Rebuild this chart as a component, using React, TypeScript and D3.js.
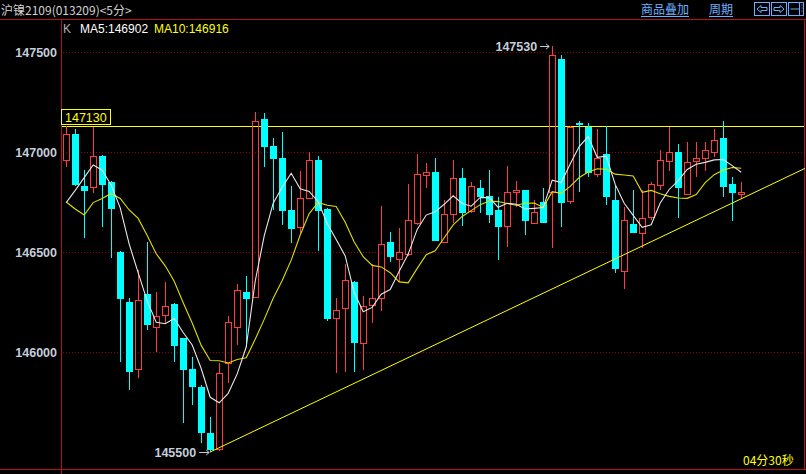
import React from "react";
import * as d3 from "d3";

const opens = [146958,147090,146830,146827,146980,146852,146502,146252,145913,146290,146127,146187,146240,146068,145913,145823,145593,145513,145943,146127,146300,146277,147165,147030,146970,146710,146627,146768,146960,146715,146168,146218,146352,146043,146235,146268,146552,146467,146488,146647,146887,146898,146548,146690,146870,146707,146818,146782,146710,146630,146798,146808,146647,146750,146802,147465,146757,147143,147123,146888,146990,146760,146407,146638,146597,146677,146835,146957,146998,146788,146957,146968,146998,147070,146840,146788];
const highs = [147130,147115,146910,147127,146985,146855,146505,146268,146410,146552,146302,146352,146245,146070,145977,145835,145677,145943,146180,146340,146380,147202,147193,147068,147102,146830,146907,146998,146980,146720,146268,146440,146355,146280,146440,146730,146598,146618,146840,146990,146947,146972,146760,146960,146922,146852,146860,146910,146777,146930,146857,146810,146760,146818,147530,147485,147130,147155,147143,147115,147130,146835,146727,146810,146810,146852,147010,147127,147040,147050,147050,147050,147115,147155,146877,146852];
const lows = [146927,146830,146568,146797,146627,146468,145952,145810,145872,146110,146002,146143,145952,145643,145735,145543,145500,145505,145843,146035,146027,146268,146927,146710,146635,146543,146593,146765,146507,146157,145893,145900,145900,145910,146147,146207,146452,146352,146480,146635,146818,146555,146545,146643,146630,146697,146693,146647,146460,146527,146727,146585,146645,146645,146518,146627,146740,146802,146877,146877,146735,146397,146315,146595,146518,146660,146810,146905,146668,146785,146877,146905,146977,146777,146657,146763];
const closes = [147088,146835,146807,146980,146835,146715,146265,145902,146260,146135,146180,146230,146032,145910,145823,145593,145510,145893,146148,146308,146265,147155,147027,146965,146707,146615,146768,146960,146707,146165,146210,146360,146043,146230,146272,146540,146477,146500,146658,146890,146898,146557,146690,146870,146697,146830,146777,146685,146627,146798,146808,146657,146700,146647,147485,146747,147123,147133,146897,146968,146777,146415,146660,146597,146668,146840,146960,146998,146818,146948,146968,147008,147060,146827,146797,146802];
// MA values at the start of the window (computed by the terminal from earlier bars)
const ma5Head = [146747, 146808, 146872, 146935];
const ma10Head = [146750, 146715, 146685, 146747, 146768, 146793, 146768, 146710, 146668];
const yTicks = [147500, 147000, 146500, 146000];
const refLevel = 147130;
const trendPoints = [
  { i: 16, v: 145500 },
  { i: 64, v: 146530 },
];

function movingAvg(n: number, head: number[]) {
  return closes.map((_, i) => {
    if (i < n - 1) return head[i];
    let s = 0;
    for (let k = i - n + 1; k <= i; k++) s += closes[k];
    return s / n;
  });
}

export default function App() {
  const W = 806, H = 474;
  const left = 61, right = 805, top = 19, bottom = 469;
  const x = d3.scaleLinear().domain([0, closes.length - 1]).range([66.2, 741.2]);
  const y = d3.scaleLinear().domain([145500, 147500]).range([452, 52]);
  const ma5 = movingAvg(5, ma5Head);
  const ma10 = movingAvg(10, ma10Head);
  const line = d3.line<number>().x((_, i) => x(i)).y((d) => y(d));
  const red = "#ff3c3c";
  const cyan = "#00ffff";
  const border = "#b01414";
  const grid = "#9a0000";
  const labelCol = "#c4cedc";

  const slope = (trendPoints[1].v - trendPoints[0].v) / (trendPoints[1].i - trendPoints[0].i);
  const iEnd = x.invert(right);
  const trendLine = d3.line<[number, number]>().x((d) => x(d[0])).y((d) => y(d[1]));
  const trendPath = trendLine([
    [trendPoints[0].i, trendPoints[0].v],
    [iEnd, trendPoints[0].v + slope * (iEnd - trendPoints[0].i)],
  ]);

  const maxI = highs.indexOf(d3.max(highs) as number);
  const minI = lows.indexOf(d3.min(lows) as number);

  const cjk = "'Noto Sans CJK SC', 'DejaVu Sans', sans-serif";
  const num = "'Liberation Sans', Arial, sans-serif";

  return (
    <svg width={W} height={H} style={{ position: "absolute", left: 0, top: 0, background: "#000" }}>
      <rect x={0} y={0} width={W} height={H} fill="#000" />
      {/* header */}
      <text x={1} y={15} fill="#d0d0d0" fontSize={12} fontFamily={cjk}>沪镍2109(013209)&lt;5分&gt;</text>
      <g fill="#6ab0ff" fontSize={12} fontFamily={cjk}>
        <text x={641} y={14}>商品叠加</text>
        <line x1={641} x2={689} y1={16.5} y2={16.5} stroke="#6ab0ff" />
        <text x={709} y={14}>周期</text>
        <line x1={709} x2={733} y1={16.5} y2={16.5} stroke="#6ab0ff" />
      </g>
      <g stroke="#6ab0ff" fill="none">
        <rect x={754.5} y={2.5} width={15} height={13} />
        <rect x={771.5} y={2.5} width={15} height={13} />
        <rect x={788.5} y={2.5} width={15} height={13} />
        <path d="M757,9 L761,5.5 L761,7.5 L767,7.5 L767,10.5 L761,10.5 L761,12.5 Z" />
        <path d="M784,9 L780,5.5 L780,7.5 L774,7.5 L774,10.5 L780,10.5 L780,12.5 Z" />
        <path d="M790.5,9 L799,9 M799.5,3 L799.5,15" />
        <path d="M801.5,5 L802.5,5 M801.5,8 L802.5,8 M801.5,11 L802.5,11" />
      </g>
      <line x1={0} x2={W} y1={top + 0.5} y2={top + 0.5} stroke={border} />
      <line x1={left + 0.5} x2={left + 0.5} y1={top} y2={H} stroke={border} />
      <line x1={0} x2={W} y1={bottom + 0.5} y2={bottom + 0.5} stroke={border} />
      <line x1={right - 0.5} x2={right - 0.5} y1={top} y2={bottom} stroke={border} />

      <g fontSize={12} fontFamily={num}>
        <text x={63} y={33} fill="#b0b0b0">K</text>
        <text x={80} y={33} fill="#ffffff">MA5:146902</text>
        <text x={154} y={33} fill="#ffff00">MA10:146916</text>
      </g>

      {/* grid and y labels */}
      {yTicks.map((t) => (
        <g key={t}>
          <line x1={left + 2} x2={right - 1} y1={Math.round(y(t)) + 0.5} y2={Math.round(y(t)) + 0.5} stroke={grid} strokeDasharray="1 2" />
          <text x={57} y={y(t) + 4.5} textAnchor="end" fill={labelCol} fontSize={12.5} fontWeight="bold" fontFamily={num}>{t}</text>
        </g>
      ))}

      {/* reference level */}
      <line x1={left + 1} x2={right - 1} y1={Math.round(y(refLevel)) + 0.5} y2={Math.round(y(refLevel)) + 0.5} stroke="#ffff00" />
      <rect x={61.5} y={109.5} width={49} height={15} fill="#000" stroke="#ffff00" />
      <text x={65} y={121.5} fill="#ffff00" fontSize={12.5} fontFamily={num}>{refLevel}</text>

      {/* candles */}
      {closes.map((c, i) => {
        const cx = Math.round(x(i));
        const o = opens[i];
        const up = c >= o;
        const yt = Math.round(y(Math.max(o, c)));
        const yb = Math.round(y(Math.min(o, c)));
        const yh = Math.round(y(highs[i]));
        const yl = Math.round(y(lows[i]));
        if (up) {
          return (
            <g key={i} stroke={red} fill="none">
              <line x1={cx + 0.5} x2={cx + 0.5} y1={yh} y2={yt} />
              <line x1={cx + 0.5} x2={cx + 0.5} y1={yb} y2={yl} />
              <rect x={cx - 2.5} y={yt + 0.5} width={6} height={Math.max(yb - yt, 1)} />
            </g>
          );
        }
        return (
          <g key={i}>
            <line x1={cx + 0.5} x2={cx + 0.5} y1={yh} y2={yl} stroke={cyan} />
            <rect x={cx - 3} y={yt} width={7} height={Math.max(yb - yt, 2)} fill={cyan} />
          </g>
        );
      })}

      {/* MAs */}
      <path d={line(ma10) || ""} fill="none" stroke="#e0e000" strokeWidth={1.1} />
      <path d={line(ma5) || ""} fill="none" stroke="#e8e8e8" strokeWidth={1.1} />

      {/* trend line */}
      <path d={trendPath || ""} fill="none" stroke="#ffff00" strokeWidth={1} />

      {/* extremes */}
      <g fill={labelCol} fontSize={12.5} fontWeight="bold" fontFamily={num}>
        <text x={x(maxI) - 15} y={y(highs[maxI]) + 5} textAnchor="end">{highs[maxI]}</text>
        <text x={x(minI) - 14} y={y(lows[minI]) + 5} textAnchor="end">{lows[minI]}</text>
      </g>
      <g stroke={labelCol} fill="none">
        <path d={`M${x(maxI) - 12},${Math.round(y(highs[maxI])) + 0.5} L${x(maxI) - 3},${Math.round(y(highs[maxI])) + 0.5} M${x(maxI) - 6},${Math.round(y(highs[maxI])) - 2} L${x(maxI) - 3},${Math.round(y(highs[maxI])) + 0.5} L${x(maxI) - 6},${Math.round(y(highs[maxI])) + 3}`} />
        <path d={`M${x(minI) - 11},${Math.round(y(lows[minI])) + 0.5} L${x(minI) - 1},${Math.round(y(lows[minI])) + 0.5} M${x(minI) - 4},${Math.round(y(lows[minI])) - 2} L${x(minI) - 1},${Math.round(y(lows[minI])) + 0.5} L${x(minI) - 4},${Math.round(y(lows[minI])) + 3}`} />
      </g>

      <text x={743} y={465} fill="#ffff00" fontSize={12} fontFamily={cjk}>04分30秒</text>
    </svg>
  );
}
